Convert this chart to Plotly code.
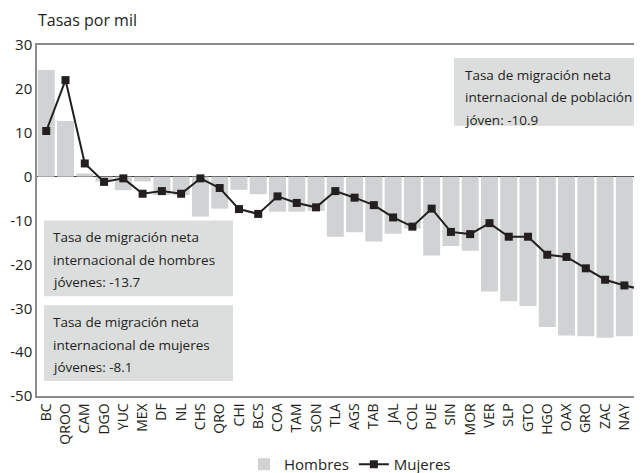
import plotly.graph_objects as go

# Entidades federativas (orden del gráfico original)
estados = [
    "BC", "QROO", "CAM", "DGO", "YUC", "MEX", "DF", "NL", "CHS", "QRO",
    "CHI", "BCS", "COA", "TAM", "SON", "TLA", "AGS", "TAB", "JAL", "COL",
    "PUE", "SIN", "MOR", "VER", "SLP", "GTO", "HGO", "OAX", "GRO", "ZAC",
    "NAY", "MIC",
]

# Tasa de migración neta internacional por mil, jóvenes
hombres = [
    24.3, 12.7, 0.7, -1.1, -3.1, -1.1, -4.2, -4.2, -9.1, -7.3,
    -3.0, -4.0, -8.0, -8.0, -7.8, -13.7, -12.7, -14.8, -13.0, -11.8,
    -18.0, -15.8, -16.9, -26.2, -28.4, -29.5, -34.3, -36.2, -36.4, -36.7,
    -36.4, -40.0,
]
mujeres = [
    10.4, 22.0, 3.0, -1.2, -0.4, -3.9, -3.3, -3.9, -0.4, -2.6,
    -7.4, -8.5, -4.5, -6.0, -7.0, -3.3, -4.8, -6.5, -9.3, -11.4,
    -7.3, -12.6, -13.1, -10.6, -13.7, -13.7, -17.8, -18.3, -20.9, -23.5,
    -24.8, -25.8,
]

y_ticks = [30, 20, 10, 0, -10, -20, -30, -40, -50]

notas = [
    ["Tasa de migración neta", "internacional de población", "jóven: -10.9"],
    ["Tasa de migración neta", "internacional de hombres", "jóvenes: -13.7"],
    ["Tasa de migración neta", "internacional de mujeres", "jóvenes: -8.1"],
]

FONT = "Open Sans"
TEXT_COLOR = "#231f20"
BAR_COLOR = "#d1d2d4"
BOX_COLOR = "#dcdddd"

# the page body has an 8px margin, so the figure starts at (8, 8)
OFF = 8
W, H = 642, 473
L, R, T, B = 29, 0, 37, 84
PLOT_W = W - L - R
PLOT_H = H - T - B


def px_x(px):
    return (px - OFF - L) / PLOT_W


def px_y(py):
    return 1 - (py - OFF - T) / PLOT_H


fig = go.Figure()
fig.add_trace(
    go.Bar(
        x=estados,
        y=hombres,
        name="Hombres",
        marker=dict(color=BAR_COLOR, line=dict(width=0)),
    )
)
fig.add_trace(
    go.Scatter(
        x=estados,
        y=mujeres,
        name="Mujeres",
        mode="lines+markers",
        line=dict(color=TEXT_COLOR, width=2),
        marker=dict(symbol="square", size=8, color=TEXT_COLOR),
    )
)

# cajas de texto: (izq, arriba, der, abajo, sangria) en pixeles de la pagina
cajas = [(454, 58, 670, 126, 9), (44, 221, 233, 297, 7), (44, 306, 233, 382, 7)]
shapes = []
annotations = []
for (x0, y0, x1, y1, pad), lineas in zip(cajas, notas):
    shapes.append(
        dict(
            type="rect", xref="paper", yref="paper",
            x0=px_x(x0), x1=px_x(x1), y0=px_y(y1), y1=px_y(y0),
            fillcolor=BOX_COLOR, line=dict(width=0), layer="above",
        )
    )
    for k, txt in enumerate(lineas):
        annotations.append(
            dict(
                text=txt, xref="paper", yref="paper",
                x=px_x(x0 + pad), y=px_y(y0 + 17 + 22.5 * k),
                xanchor="left", yanchor="middle", showarrow=False,
                font=dict(family=FONT, size=13.5, color=TEXT_COLOR),
            )
        )

annotations.append(
    dict(
        text="Tasas por mil", xref="paper", yref="paper",
        x=px_x(36), y=px_y(20), xanchor="left", yanchor="middle", showarrow=False,
        font=dict(family=FONT, size=16, color=TEXT_COLOR),
    )
)

fig.update_layout(
    width=W,
    height=H,
    margin=dict(l=L, r=R, t=T, b=B, pad=0),
    paper_bgcolor="white",
    plot_bgcolor="white",
    font=dict(family=FONT, size=14, color=TEXT_COLOR),
    bargap=0.12,
    showlegend=True,
    legend=dict(
        orientation="h", x=px_x(350), xanchor="center", y=px_y(466), yanchor="middle",
        font=dict(family=FONT, size=15, color=TEXT_COLOR),
        bgcolor="rgba(0,0,0,0)",
    ),
    shapes=shapes,
    annotations=annotations,
)
fig.update_xaxes(
    type="category",
    categoryorder="array",
    categoryarray=estados,
    range=[-0.48, 31.33],
    automargin=False,
    tickangle=-90,
    tickfont=dict(family=FONT, size=14, color=TEXT_COLOR),
    showline=True, mirror=True, linecolor="#8c8c8c", linewidth=1.5,
    showgrid=False, ticks="",
)
fig.update_yaxes(
    range=[-50, 30],
    automargin=False,
    tickvals=y_ticks,
    ticktext=[str(v) for v in y_ticks],
    tickfont=dict(family=FONT, size=15, color=TEXT_COLOR),
    showline=True, mirror=True, linecolor="#8c8c8c", linewidth=1.5,
    showgrid=False, ticks="",
    zeroline=True, zerolinecolor="#333333", zerolinewidth=1,
)

fig.write_html("out.html")
